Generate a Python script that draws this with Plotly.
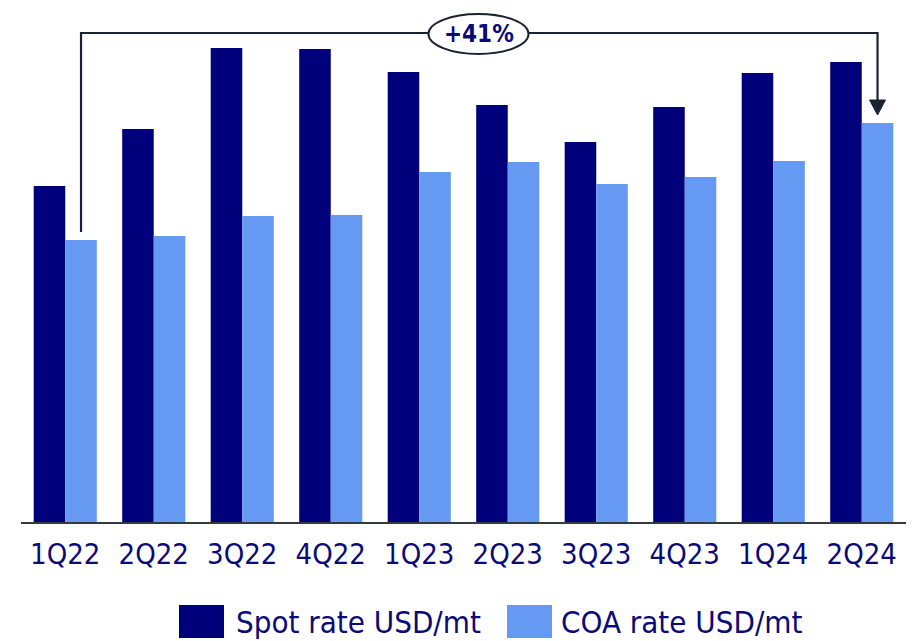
import plotly.graph_objects as go

quarters = ["1Q22", "2Q22", "3Q22", "4Q22", "1Q23", "2Q23", "3Q23", "4Q23", "1Q24", "2Q24"]
spot_rate = [336, 393, 474, 473, 450, 417, 380, 415, 449, 460]
coa_rate = [282, 286, 306, 307, 350, 360, 338, 345, 361, 399]
change_label = "+41%"
series_names = ["Spot rate USD/mt", "COA rate USD/mt"]

NAVY = "#00007a"
LIGHT = "#6699f2"
TEXT = "#0a0a78"
LINE = "#1b2233"
FONT = "DejaVu Sans Condensed, Liberation Sans Narrow, Arial Narrow, sans-serif"

fig = go.Figure()
fig.add_trace(go.Bar(x=quarters, y=spot_rate, name=series_names[0], marker_color=NAVY, marker_line_width=0))
fig.add_trace(go.Bar(x=quarters, y=coa_rate, name=series_names[1], marker_color=LIGHT, marker_line_width=0))

bargap = 0.287
half = (1 - bargap) / 4  # offset of each bar center from category center
x_left = 0 + half
x_right = len(quarters) - 1 + half
top_y = max(spot_rate) + 15
left_bottom = coa_rate[0] + 8
tip_y = coa_rate[-1] + 8
head_len = 15
head_half = 0.09

shapes = [
    dict(type="path", xref="x", yref="y",
         path=f"M {x_left} {left_bottom} L {x_left} {top_y} L {x_right} {top_y} L {x_right} {tip_y + head_len}",
         line=dict(color=LINE, width=2.2)),
    dict(type="path", xref="x", yref="y",
         path=f"M {x_right - head_half} {tip_y + head_len} L {x_right + head_half} {tip_y + head_len} L {x_right} {tip_y} Z",
         fillcolor=LINE, line=dict(color=LINE, width=1)),
    dict(type="circle", xref="x", yref="y", x0=4.104, x1=5.235, y0=top_y - 21, y1=top_y + 19,
         fillcolor="white", line=dict(color=LINE, width=2)),
]

annotations = [
    dict(x=4.67, y=top_y - 1, xref="x", yref="y", text=f"<b>{change_label}</b>", showarrow=False,
         font=dict(family=FONT, size=24, color=TEXT)),
]

# custom legend (large swatches)
W, H = 920, 641
ml, mr, mt, mb = 21, 14, 5, 119
pw, ph = W - ml - mr, H - mt - mb
def px(x):
    return (x - ml) / pw
def py(y):
    return (H - mb - y) / ph

legend_items = [(179, 224, 234, series_names[0], NAVY), (507, 552, 559, series_names[1], LIGHT)]
for x0, x1, tx, name, col in legend_items:
    shapes.append(dict(type="rect", xref="paper", yref="paper", x0=px(x0), x1=px(x1), y0=py(638), y1=py(605),
                       fillcolor=col, line=dict(width=0)))
    annotations.append(dict(x=px(tx), y=py(622), xref="paper", yref="paper", text=name, showarrow=False,
                            xanchor="left", yanchor="middle", font=dict(family=FONT, size=31, color=TEXT)))

fig.update_layout(
    width=W, height=H,
    margin=dict(l=ml, r=mr, t=mt, b=mb),
    paper_bgcolor="white", plot_bgcolor="white",
    barmode="group", bargap=bargap, bargroupgap=0,
    showlegend=False,
    shapes=shapes, annotations=annotations,
    xaxis=dict(showline=True, linecolor="#333a44", linewidth=2, ticks="outside", ticklen=5,
               tickcolor="rgba(0,0,0,0)", tickfont=dict(family=FONT, size=29, color=TEXT),
               showgrid=False, zeroline=False, range=[-0.5, len(quarters) - 0.5]),
    yaxis=dict(visible=False, range=[0, ph], showgrid=False, zeroline=False),
)

fig.write_html("out.html", config={"displayModeBar": False},
               post_script="document.body.style.margin='0';document.body.style.overflow='hidden';")
